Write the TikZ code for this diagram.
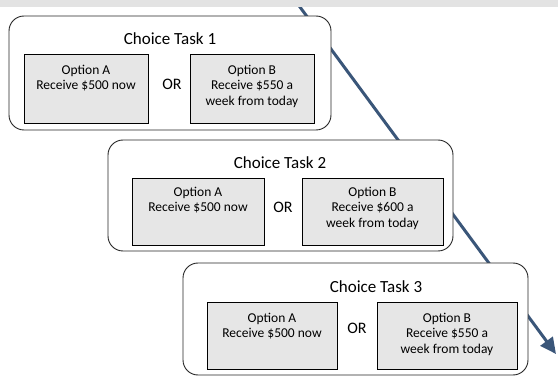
\documentclass[tikz,border=0pt]{standalone}
\usepackage{fontspec}
\setmainfont{Carlito}
\usetikzlibrary{arrows.meta}
\definecolor{arrowblue}{RGB}{58,86,121}
\definecolor{optgray}{RGB}{230,230,230}
\definecolor{stripgray}{RGB}{227,227,227}
\tikzset{
  taskbox/.style={draw=black!85, fill=white, line width=0.9pt, rounded corners=15pt},
  optbox/.style={draw=black, fill=optgray, line width=0.9pt, rectangle, inner sep=0pt},
  opttext/.style={anchor=north, align=center, font=\fontsize{13.5}{15.6}\selectfont, inner sep=0pt},
  titletext/.style={font=\fontsize{17}{20}\selectfont, inner sep=0pt},
  ortext/.style={font=\fontsize{16}{19}\selectfont, inner sep=0pt},
  flowline/.style={draw=arrowblue, line width=3pt, -{Triangle[length=16pt,width=15pt]}}
}
\begin{document}
\begin{tikzpicture}[x=1pt,y=-1pt]
\useasboundingbox (0,0) rectangle (558,377);
% arrow behind boxes
\coordinate (s) at (297,3);
\coordinate (e) at (556,354);
\draw[flowline] (s) -- (e);
% top strip
\fill[stripgray] (0,0) rectangle (558,7);
% Task 1
\draw[taskbox] (9,16) rectangle (331,130);
\node[titletext] (t1) at (170,39) {Choice Task 1};
\node[optbox, minimum width=124pt, minimum height=69pt] (a1) at (86,88.5) {};
\node[optbox, minimum width=124pt, minimum height=69pt] (b1) at (252,88.5) {};
\node[opttext] (a1t) at ([yshift=-11pt]a1.north) {Option A\\Receive \$500 now};
\node[opttext] (b1t) at ([yshift=-11pt]b1.north) {Option B\\Receive \$550 a\\week from today};
\node[ortext] (o1) at (172,84) {OR};
% Task 2
\draw[taskbox] (108,140) rectangle (453,251);
\node[titletext] (t2) at (280,163) {Choice Task 2};
\node[optbox, minimum width=132pt, minimum height=67pt] (a2) at (198,211.5) {};
\node[optbox, minimum width=141pt, minimum height=67pt] (b2) at (372.5,211.5) {};
\node[opttext] (a2t) at ([yshift=-9pt]a2.north) {Option A\\Receive \$500 now};
\node[opttext] (b2t) at ([yshift=-9pt]b2.north) {Option B\\Receive \$600 a\\week from today};
\node[ortext] (o2) at (283,207) {OR};
% Task 3
\draw[taskbox] (183,263) rectangle (528,375);
\node[titletext] (t3) at (376,287) {Choice Task 3};
\node[optbox, minimum width=130pt, minimum height=67pt] (a3) at (272,335.5) {};
\node[optbox, minimum width=140pt, minimum height=67pt] (b3) at (447,335.5) {};
\node[opttext] (a3t) at ([yshift=-11pt]a3.north) {Option A\\Receive \$500 now};
\node[opttext] (b3t) at ([yshift=-11pt]b3.north) {Option B\\Receive \$550 a\\week from today};
\node[ortext] (o3) at (357,328) {OR};
\end{tikzpicture}
\end{document}
